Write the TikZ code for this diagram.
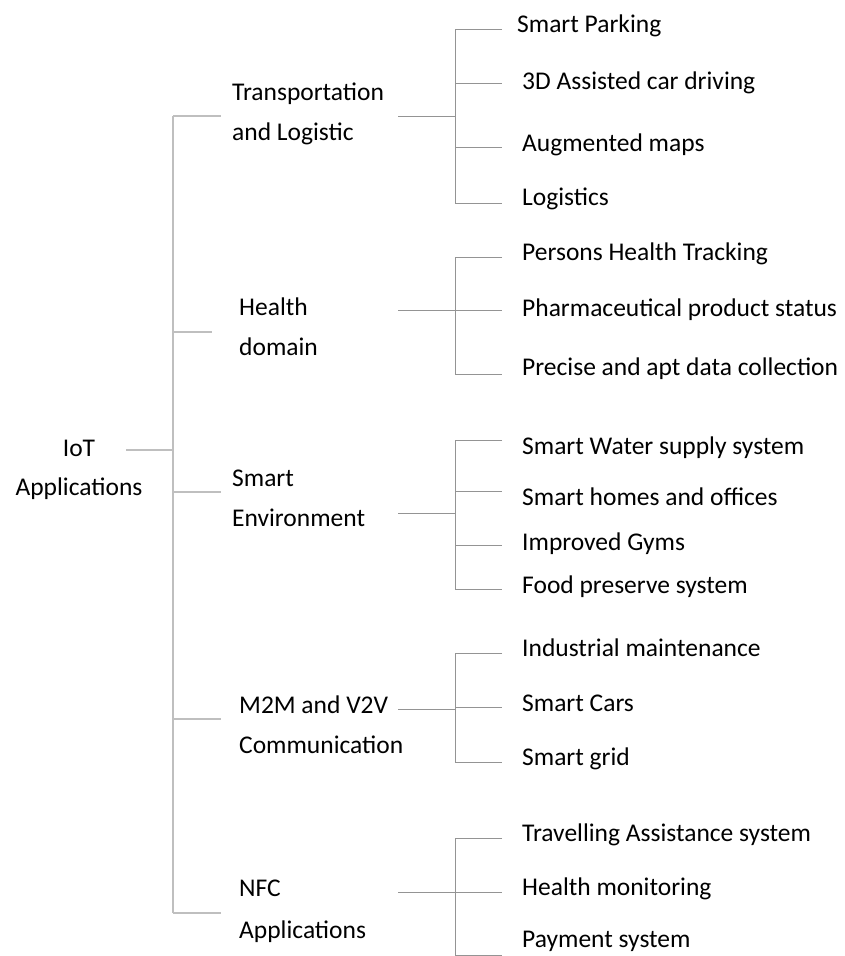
\documentclass[tikz,border=0pt]{standalone}
\usepackage{fontspec}
\setmainfont{Carlito}
\tikzset{
  trunk/.style={draw=black!25, line width=1.4pt},
  link/.style={draw=black!42, line width=1pt},
  branch/.style={anchor=base west, inner sep=0pt, align=left, font=\fontsize{25.5}{40}\selectfont},
  leaf/.style={anchor=west, inner sep=0pt, text height=16.5pt, text depth=0pt, font=\fontsize{25.5}{40}\selectfont}
}

\begin{document}
\begin{tikzpicture}[x=1pt,y=-1pt]
		%%%%% START %%%%%
		\useasboundingbox (0,0) rectangle (845,956);
		
		\node[branch, align=center, anchor=base, font=\fontsize{25.5}{39}\selectfont] (iot) at (79,495) {IoT\\Applications};
		\coordinate (iotR) at (126,450);
		\coordinate (top) at (173,116);
		\coordinate (bot) at (173,913);
		\draw[trunk] (top) -- (bot);
		\draw[trunk] (iotR) -- (iotR -| top);
		
		\node[branch] (tp) at (232,140.5) {Transportation\\and Logistic};
		\node[branch] (hd) at (239,355.5) {Health\\domain};
		\node[branch] (se) at (232,526.5) {Smart\\Environment};
		\node[branch] (mm) at (239,753.5) {M2M and V2V\\Communication};
		\node[branch, font=\fontsize{25.5}{42}\selectfont] (nfc) at (239,938.5) {NFC\\Applications};
		
		\draw[trunk] (top) -- (221,116);
		\draw[trunk] (173,332) -- (212,332);
		\draw[trunk] (173,492) -- (221,492);
		\draw[trunk] (173,719) -- (221,719);
		\draw[trunk] (bot) -- (221,913);
		
		%%%%% Transportation %%%%%
		\draw[link] (398,116) -- (455,116);
		\draw[link] (502,29) -- (455,29) -- (455,203) -- (502,203);
		\draw[link] (455,83) -- (502,83);
		\draw[link] (455,147) -- (502,147);
		\node[leaf] (tp1) at (517,24) {Smart Parking};
		\node[leaf] (tp2) at (522,81) {3D Assisted car driving};
		\node[leaf] (tp3) at (522,143) {Augmented maps};
		\node[leaf] (tp4) at (522,197) {Logistics};
		
		%%%%% Health %%%%%
		\draw[link] (398,310) -- (455,310);
		\draw[link] (502,257) -- (455,257) -- (455,374) -- (502,374);
		\draw[link] (455,310) -- (502,310);
		\node[leaf] (hd1) at (522,252) {Persons Health Tracking};
		\node[leaf] (hd2) at (522,308) {Pharmaceutical product status};
		\node[leaf] (hd3) at (522,367) {Precise and apt data collection};
		
		%%%%% Environment %%%%%
		\draw[link] (398,513) -- (455,513);
		\draw[link] (502,440) -- (455,440) -- (455,589) -- (502,589);
		\draw[link] (455,491) -- (502,491);
		\draw[link] (455,545) -- (502,545);
		\node[leaf] (se1) at (522,446) {Smart Water supply system};
		\node[leaf] (se2) at (522,497) {Smart homes and offices};
		\node[leaf] (se3) at (522,542) {Improved Gyms};
		\node[leaf] (se4) at (522,585) {Food preserve system};
		
		%%%%% M2M %%%%%
		\draw[link] (398,709) -- (455,709);
		\draw[link] (502,653) -- (455,653) -- (455,762) -- (502,762);
		\draw[link] (455,707) -- (502,707);
		\node[leaf] (mm1) at (522,648) {Industrial maintenance};
		\node[leaf] (mm2) at (522,703) {Smart Cars};
		\node[leaf] (mm3) at (522,757) {Smart grid};
		
		%%%%% NFC %%%%%
		\draw[link] (398,892) -- (455,892);
		\draw[link] (502,838) -- (455,838) -- (455,955) -- (502,955);
		\draw[link] (455,892) -- (502,892);
		\node[leaf] (nfc1) at (522,833) {Travelling Assistance system};
		\node[leaf] (nfc2) at (522,887) {Health monitoring};
		\node[leaf] (nfc3) at (522,939) {Payment system};
		
		%%%%% END %%%%%
\end{tikzpicture}
\end{document}
